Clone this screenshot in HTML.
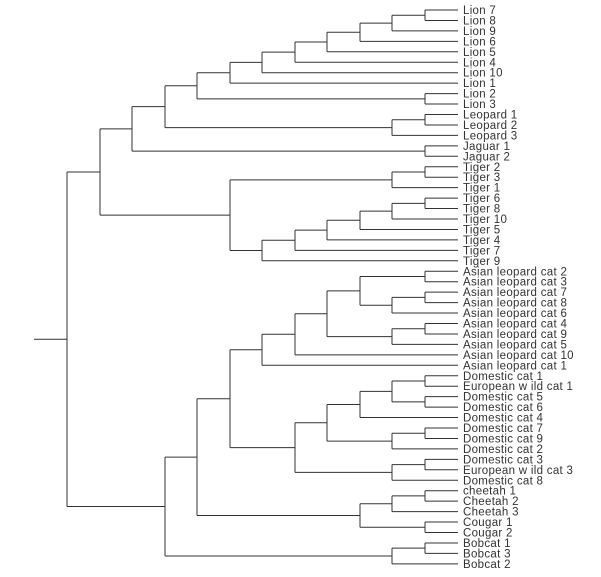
<!DOCTYPE html>
<html><head><meta charset="utf-8"><style>
html,body{margin:0;padding:0;background:#fff;}
svg{display:block;}
text{font-family:"Liberation Sans",Arial,sans-serif;font-size:11.5px;letter-spacing:0.3px;fill:#333;}
line{stroke:#333;stroke-width:1;}
</style></head><body>
<svg id="s" width="601" height="577" xmlns="http://www.w3.org/2000/svg"></svg>
<script>
var names=["Lion 7","Lion 8","Lion 9","Lion 6","Lion 5","Lion 4","Lion 10","Lion 1","Lion 2","Lion 3","Leopard 1","Leopard 2","Leopard 3","Jaguar 1","Jaguar 2","Tiger 2","Tiger 3","Tiger 1","Tiger 6","Tiger 8","Tiger 10","Tiger 5","Tiger 4","Tiger 7","Tiger 9","Asian leopard cat 2","Asian leopard cat 3","Asian leopard cat 7","Asian leopard cat 8","Asian leopard cat 6","Asian leopard cat 4","Asian leopard cat 9","Asian leopard cat 5","Asian leopard cat 10","Asian leopard cat 1","Domestic cat 1","European w ild cat 1","Domestic cat 5","Domestic cat 6","Domestic cat 4","Domestic cat 7","Domestic cat 9","Domestic cat 2","Domestic cat 3","European w ild cat 3","Domestic cat 8","cheetah 1","Cheetah 2","Cheetah 3","Cougar 1","Cougar 2","Bobcat 1","Bobcat 3","Bobcat 2"];
var X=458;
function L(i){return {x:X,y:10+i*10.45};}
function N(x,a,b){return {x:x,c:[a,b],y:(a.y+b.y)/2};}
var s=document.getElementById('s'),out='';
function ln(x1,y1,x2,y2){out+='<line x1="'+x1+'" y1="'+y1+'" x2="'+x2+'" y2="'+y2+'"/>';}
var l=L;
var lion=N(425,l(0),l(1));lion=N(392,lion,l(2));lion=N(360,lion,l(3));lion=N(327,lion,l(4));lion=N(295,lion,l(5));lion=N(262,lion,l(6));lion=N(230,lion,l(7));
lion=N(197,lion,N(425,l(8),l(9)));
var leo=N(392,N(425,l(10),l(11)),l(12));
var big=N(165,lion,leo);big=N(132,big,N(425,l(13),l(14)));
var t1=N(392,N(425,l(15),l(16)),l(17));
var t2=N(425,l(18),l(19));t2=N(392,t2,l(20));t2=N(360,t2,l(21));t2=N(327,t2,l(22));t2=N(295,t2,l(23));t2=N(262,t2,l(24));
var pan=N(100,big,N(230,t1,t2));
var a1=N(360,N(425,l(25),l(26)),N(392,N(425,l(27),l(28)),l(29)));
var a2=N(392,N(425,l(30),l(31)),l(32));
var alc=N(262,N(295,N(327,a1,a2),l(33)),l(34));
var d1=N(360,N(392,N(425,l(35),l(36)),N(425,l(37),l(38))),l(39));
var d2=N(392,N(425,l(40),l(41)),l(42));
var d3=N(392,N(425,l(43),l(44)),l(45));
var dc=N(295,N(327,d1,d2),d3);
var cats=N(230,alc,dc);
var ch=N(360,N(392,N(425,l(46),l(47)),l(48)),N(425,l(49),l(50)));
var g=N(197,cats,ch);
var bob=N(392,N(425,l(51),l(52)),l(53));
g=N(165,g,bob);
var root=N(67,pan,g);
function draw(n){if(!n.c)return;ln(n.x,n.c[0].y,n.x,n.c[1].y);n.c.forEach(function(c){ln(n.x,c.y,c.x,c.y);draw(c);});}
draw(root);ln(34,root.y,67,root.y);
names.forEach(function(t,i){out+='<text x="463" y="'+(10+i*10.45+4)+'">'+t+'</text>';});
s.innerHTML=out;
</script>
</body></html>
